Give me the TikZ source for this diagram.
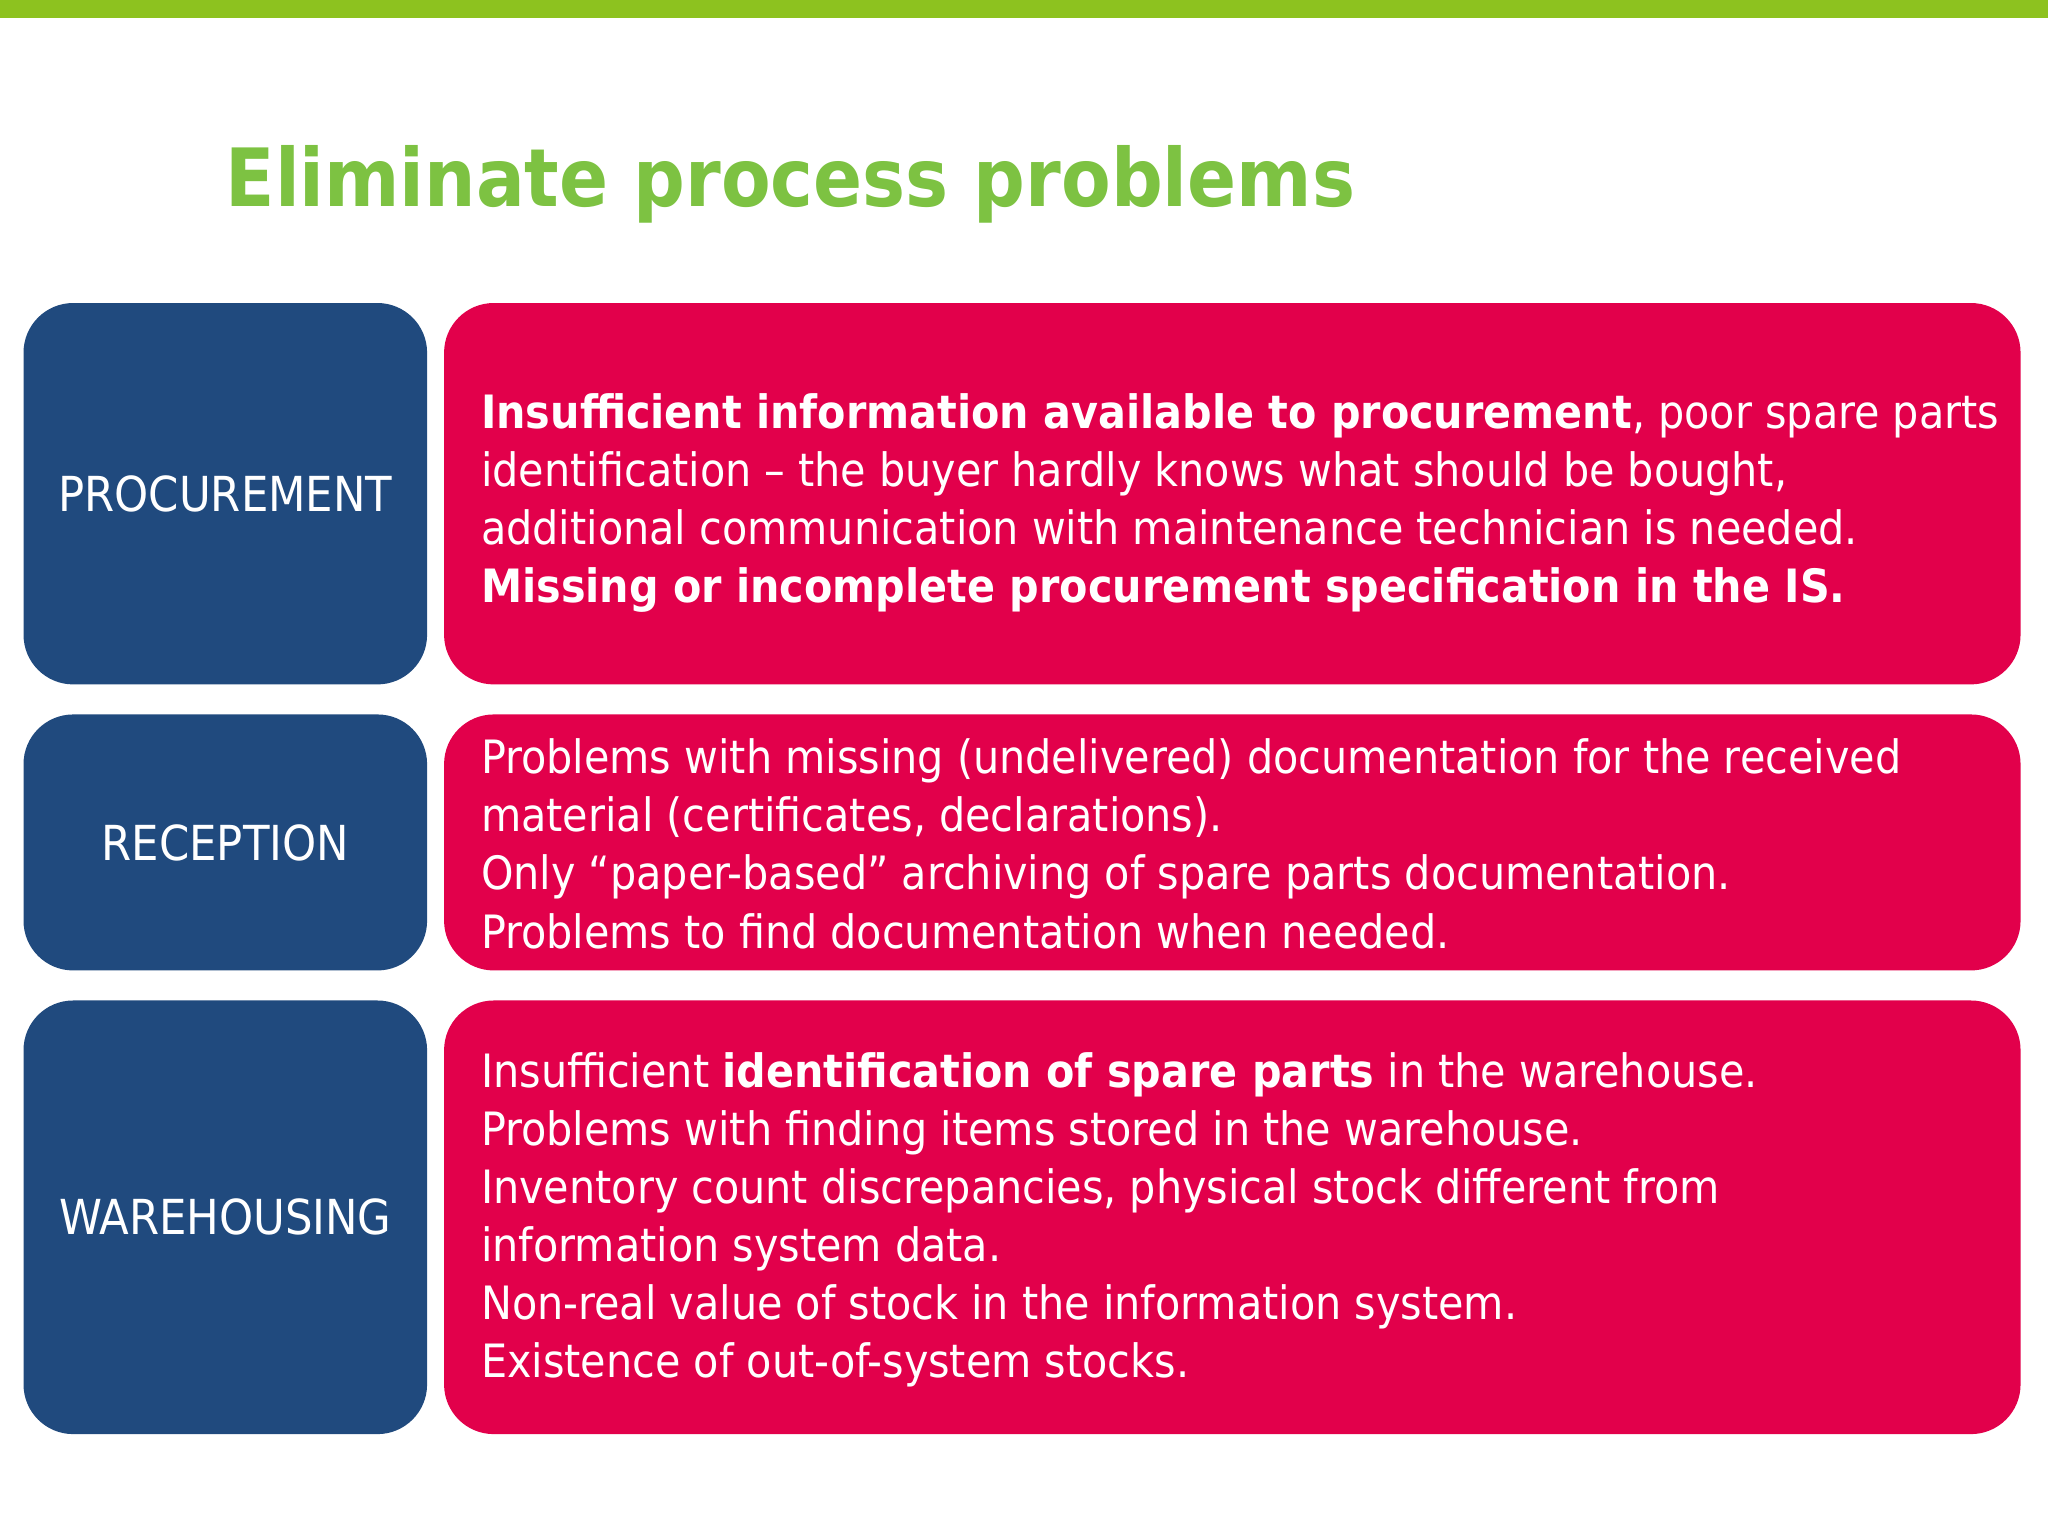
\documentclass[tikz,border=0pt]{standalone}
\usepackage{fontspec}
\setmainfont{DejaVu Sans Condensed}
\definecolor{bar}{HTML}{8DC21F}
\definecolor{ttl}{HTML}{7DC242}
\definecolor{blu}{HTML}{204A7E}
\definecolor{rd}{HTML}{E2004B}
\begin{document}
\begin{tikzpicture}[x=0.01cm,y=-0.01cm,
  lab/.style={fill=blu,rounded corners=0.38cm,text=white,font=\fontsize{10.5pt}{12.66pt}\selectfont},
  box/.style={fill=rd,rounded corners=0.38cm},
  txt/.style={anchor=west,text=white,align=left,font=\fontsize{10pt}{12.66pt}\selectfont}]
\useasboundingbox (0,0) rectangle (1568,1176);
\fill[bar] (0,0) rectangle (1568,14);
\node[anchor=base west,inner sep=0,text=ttl,font=\bfseries\fontsize{17.5pt}{20pt}\selectfont] (title) at (172,158) {Eliminate process problems};
\foreach \n/\t/\b/\l in {p/232/524/PROCUREMENT,r/547/743/RECEPTION,w/766/1098/WAREHOUSING}{
  \fill[blu,rounded corners=0.38cm] (18,\t) rectangle (327,\b);
  \node[text=white,font=\fontsize{10.5pt}{12.66pt}\selectfont] (l\n) at (172.5,{(\t+\b)/2}) {\l};
  \fill[rd,rounded corners=0.38cm] (340,\t) rectangle (1547,\b);
}
\node[txt] (tp) at (356,385) {\textbf{Insufficient information available to procurement}, poor spare parts\\identification – the buyer hardly knows what should be bought,\\additional communication with maintenance technician is needed.\\\textbf{Missing or incomplete procurement specification in the IS.}};
\node[txt] (tr) at (356,646) {Problems with missing (undelivered) documentation for the received\\material (certificates, declarations).\\Only “paper-based” archiving of spare parts documentation.\\Problems to find documentation when needed.};
\node[txt] (tw) at (356,934) {Insufficient \textbf{identification of spare parts} in the warehouse.\\Problems with finding items stored in the warehouse.\\Inventory count discrepancies, physical stock different from\\information system data.\\Non-real value of stock in the information system.\\Existence of out-of-system stocks.};
\end{tikzpicture}
\end{document}
